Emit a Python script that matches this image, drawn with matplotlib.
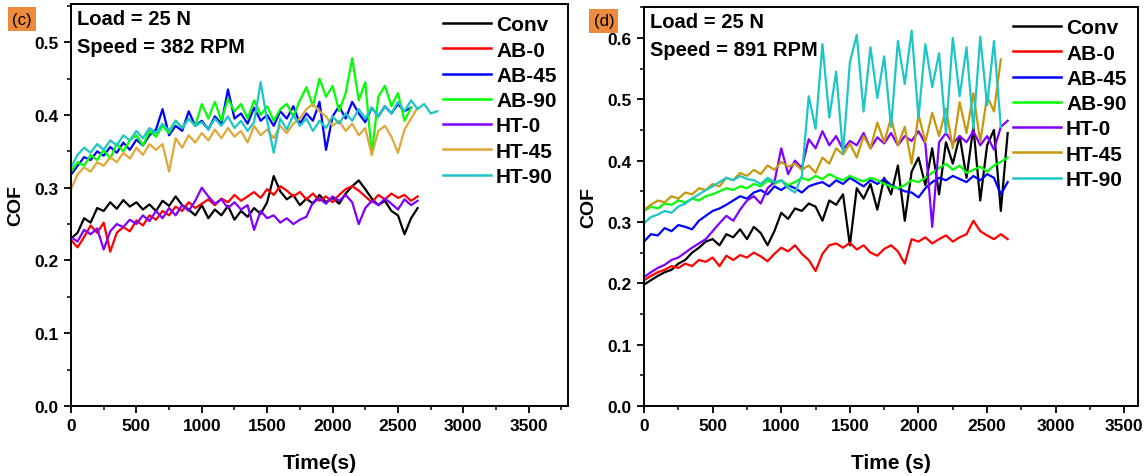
import numpy as np
import matplotlib
matplotlib.use("Agg")
import matplotlib.pyplot as plt
from matplotlib.ticker import MultipleLocator

plt.rcParams['font.family'] = ['Liberation Sans', 'DejaVu Sans']
plt.rcParams['font.weight'] = 'bold'

step = 50

# ---- panel (c): 25 N, 382 RPM ----
conv_c = [0.230, 0.238, 0.258, 0.252, 0.272, 0.268, 0.280, 0.271, 0.283, 0.274,
          0.280, 0.270, 0.277, 0.268, 0.282, 0.275, 0.288, 0.276, 0.270, 0.262,
          0.276, 0.258, 0.270, 0.262, 0.275, 0.256, 0.268, 0.260, 0.272, 0.264,
          0.280, 0.316, 0.295, 0.284, 0.290, 0.276, 0.285, 0.278, 0.290, 0.280,
          0.286, 0.278, 0.292, 0.302, 0.310, 0.298, 0.285, 0.276, 0.282, 0.268,
          0.262, 0.236, 0.258, 0.272]
ab0_c = [0.228, 0.218, 0.232, 0.248, 0.238, 0.252, 0.212, 0.238, 0.246, 0.240,
         0.255, 0.248, 0.262, 0.256, 0.268, 0.262, 0.274, 0.268, 0.280, 0.272,
         0.278, 0.284, 0.276, 0.285, 0.280, 0.290, 0.282, 0.288, 0.294, 0.286,
         0.298, 0.290, 0.302, 0.296, 0.288, 0.294, 0.284, 0.292, 0.282, 0.288,
         0.280, 0.290, 0.298, 0.302, 0.296, 0.288, 0.280, 0.290, 0.284, 0.292,
         0.286, 0.290, 0.282, 0.288]
ab45_c = [0.318, 0.330, 0.342, 0.338, 0.350, 0.344, 0.356, 0.348, 0.362, 0.352,
          0.366, 0.358, 0.372, 0.380, 0.408, 0.372, 0.385, 0.378, 0.405, 0.385,
          0.392, 0.380, 0.398, 0.388, 0.435, 0.395, 0.402, 0.388, 0.410, 0.392,
          0.400, 0.385, 0.405, 0.395, 0.412, 0.388, 0.402, 0.392, 0.418, 0.352,
          0.398, 0.412, 0.395, 0.418, 0.402, 0.390, 0.410, 0.398, 0.412, 0.402,
          0.415, 0.405, 0.410]
ab90_c = [0.322, 0.335, 0.330, 0.345, 0.338, 0.352, 0.340, 0.360, 0.350, 0.365,
          0.372, 0.358, 0.378, 0.370, 0.385, 0.375, 0.392, 0.382, 0.395, 0.385,
          0.415, 0.395, 0.418, 0.392, 0.422, 0.405, 0.415, 0.395, 0.420, 0.400,
          0.412, 0.392, 0.408, 0.415, 0.398, 0.420, 0.438, 0.412, 0.450, 0.425,
          0.440, 0.405, 0.430, 0.478, 0.420, 0.445, 0.345, 0.425, 0.440, 0.412,
          0.430, 0.392, 0.410]
ht0_c = [0.232, 0.226, 0.242, 0.236, 0.244, 0.215, 0.240, 0.250, 0.246, 0.256,
         0.250, 0.262, 0.254, 0.268, 0.258, 0.272, 0.262, 0.276, 0.268, 0.282,
         0.300, 0.288, 0.278, 0.284, 0.272, 0.280, 0.270, 0.276, 0.242, 0.268,
         0.258, 0.262, 0.252, 0.258, 0.250, 0.256, 0.260, 0.280, 0.285, 0.278,
         0.288, 0.282, 0.290, 0.280, 0.250, 0.272, 0.282, 0.276, 0.285, 0.278,
         0.270, 0.284, 0.276, 0.282]
ht45_c = [0.298, 0.318, 0.328, 0.322, 0.335, 0.330, 0.342, 0.335, 0.348, 0.340,
          0.355, 0.345, 0.360, 0.352, 0.360, 0.322, 0.368, 0.355, 0.372, 0.362,
          0.375, 0.365, 0.380, 0.368, 0.382, 0.370, 0.378, 0.362, 0.385, 0.372,
          0.380, 0.368, 0.385, 0.375, 0.388, 0.395, 0.408, 0.415, 0.405, 0.398,
          0.385, 0.392, 0.378, 0.388, 0.372, 0.382, 0.345, 0.378, 0.385, 0.370,
          0.348, 0.380, 0.395, 0.410]
ht90_c = [0.328, 0.345, 0.355, 0.348, 0.360, 0.352, 0.365, 0.358, 0.372, 0.365,
          0.378, 0.368, 0.382, 0.375, 0.388, 0.378, 0.392, 0.382, 0.395, 0.385,
          0.390, 0.380, 0.395, 0.385, 0.398, 0.382, 0.392, 0.378, 0.390, 0.445,
          0.392, 0.348, 0.395, 0.380, 0.400, 0.385, 0.395, 0.378, 0.392, 0.382,
          0.398, 0.388, 0.402, 0.392, 0.408, 0.395, 0.410, 0.398, 0.412, 0.402,
          0.418, 0.405, 0.420, 0.408, 0.415, 0.402, 0.405]

# ---- panel (d): 25 N, 891 RPM ----
conv_d = [0.198, 0.205, 0.212, 0.218, 0.222, 0.232, 0.238, 0.250, 0.258, 0.268,
          0.272, 0.262, 0.280, 0.275, 0.288, 0.272, 0.292, 0.282, 0.262, 0.285,
          0.315, 0.305, 0.322, 0.318, 0.330, 0.325, 0.302, 0.335, 0.328, 0.345,
          0.262, 0.355, 0.338, 0.362, 0.320, 0.372, 0.345, 0.392, 0.302, 0.382,
          0.405, 0.360, 0.420, 0.345, 0.430, 0.395, 0.440, 0.372, 0.455, 0.335,
          0.425, 0.450, 0.318, 0.445]
ab0_d = [0.205, 0.212, 0.218, 0.222, 0.228, 0.225, 0.232, 0.228, 0.238, 0.235,
         0.242, 0.228, 0.245, 0.238, 0.246, 0.242, 0.250, 0.244, 0.236, 0.248,
         0.258, 0.252, 0.262, 0.248, 0.238, 0.220, 0.248, 0.262, 0.265, 0.258,
         0.266, 0.255, 0.262, 0.250, 0.245, 0.256, 0.262, 0.252, 0.232, 0.272,
         0.268, 0.275, 0.265, 0.272, 0.278, 0.268, 0.275, 0.280, 0.302, 0.285,
         0.278, 0.272, 0.280, 0.272]
ab45_d = [0.268, 0.280, 0.278, 0.290, 0.285, 0.295, 0.292, 0.288, 0.302, 0.310,
          0.318, 0.322, 0.328, 0.335, 0.342, 0.338, 0.348, 0.352, 0.345, 0.358,
          0.352, 0.360, 0.355, 0.348, 0.358, 0.362, 0.365, 0.358, 0.368, 0.362,
          0.372, 0.365, 0.358, 0.368, 0.362, 0.370, 0.360, 0.355, 0.350, 0.348,
          0.340, 0.355, 0.365, 0.372, 0.368, 0.375, 0.370, 0.365, 0.375, 0.368,
          0.378, 0.372, 0.345, 0.365]
ab90_d = [0.318, 0.325, 0.322, 0.330, 0.328, 0.335, 0.332, 0.338, 0.335, 0.342,
          0.345, 0.350, 0.355, 0.352, 0.358, 0.355, 0.362, 0.358, 0.368, 0.362,
          0.368, 0.360, 0.365, 0.372, 0.368, 0.375, 0.370, 0.378, 0.372, 0.368,
          0.375, 0.370, 0.366, 0.372, 0.368, 0.362, 0.358, 0.355, 0.360, 0.368,
          0.365, 0.372, 0.380, 0.388, 0.395, 0.385, 0.392, 0.380, 0.385, 0.390,
          0.382, 0.392, 0.398, 0.405]
ht0_d = [0.210, 0.218, 0.225, 0.230, 0.238, 0.242, 0.250, 0.258, 0.265, 0.272,
         0.285, 0.298, 0.310, 0.302, 0.320, 0.335, 0.342, 0.330, 0.355, 0.365,
         0.420, 0.378, 0.400, 0.388, 0.435, 0.420, 0.448, 0.425, 0.440, 0.418,
         0.432, 0.425, 0.445, 0.420, 0.438, 0.428, 0.445, 0.425, 0.440, 0.432,
         0.448, 0.428, 0.292, 0.430, 0.445, 0.428, 0.440, 0.430, 0.448, 0.425,
         0.440, 0.418, 0.455, 0.465]
ht45_d = [0.320, 0.328, 0.335, 0.332, 0.342, 0.338, 0.348, 0.345, 0.355, 0.352,
          0.362, 0.358, 0.372, 0.368, 0.380, 0.375, 0.385, 0.378, 0.392, 0.385,
          0.398, 0.390, 0.395, 0.385, 0.392, 0.380, 0.405, 0.395, 0.420, 0.410,
          0.428, 0.405, 0.440, 0.420, 0.462, 0.430, 0.470, 0.425, 0.455, 0.395,
          0.475, 0.430, 0.478, 0.440, 0.485, 0.420, 0.495, 0.445, 0.510, 0.430,
          0.505, 0.480, 0.565]
ht90_d = [0.298, 0.308, 0.312, 0.318, 0.315, 0.325, 0.330, 0.338, 0.345, 0.352,
          0.358, 0.365, 0.372, 0.368, 0.375, 0.370, 0.368, 0.362, 0.372, 0.365,
          0.368, 0.355, 0.348, 0.375, 0.505, 0.452, 0.590, 0.470, 0.545, 0.412,
          0.560, 0.605, 0.480, 0.585, 0.502, 0.570, 0.455, 0.595, 0.525, 0.612,
          0.470, 0.590, 0.520, 0.575, 0.445, 0.600, 0.505, 0.585, 0.452, 0.602,
          0.490, 0.595, 0.455]

labels = ['Conv', 'AB-0', 'AB-45', 'AB-90', 'HT-0', 'HT-45', 'HT-90']
colors_c = ['#000000', '#FF0000', '#0000FF', '#00FF00', '#7F00FF', '#E0A838', '#1CC6C6']
colors_d = ['#000000', '#FF0000', '#0000FF', '#00FF00', '#7F00FF', '#C8980C', '#1CC6C6']

panel_c = [conv_c, ab0_c, ab45_c, ab90_c, ht0_c, ht45_c, ht90_c]
panel_d = [conv_d, ab0_d, ab45_d, ab90_d, ht0_d, ht45_d, ht90_d]

fig = plt.figure(figsize=(11.47, 4.77), dpi=100)
ax1 = fig.add_axes([0.0619, 0.1468, 0.4333, 0.8428])
ax2 = fig.add_axes([0.5615, 0.1468, 0.4307, 0.8365])


def draw(ax, series, colors, xmax, ylim_top, xlabel, speed):
    for vals, lab, col in zip(series, labels, colors):
        t = np.arange(len(vals)) * step
        ax.plot(t, vals, color=col, lw=1.6, label=lab)
    ax.set_xlim(0, xmax)
    ax.set_ylim(0, ylim_top)
    ax.xaxis.set_major_locator(MultipleLocator(500))
    ax.xaxis.set_minor_locator(MultipleLocator(250))
    ax.yaxis.set_major_locator(MultipleLocator(0.1))
    ax.yaxis.set_minor_locator(MultipleLocator(0.05))
    ax.tick_params(which='major', direction='out', length=5, width=1.3,
                   labelsize=12.5, pad=4)
    ax.tick_params(which='minor', direction='out', length=3, width=1.1)
    for lbl in ax.get_xticklabels() + ax.get_yticklabels():
        lbl.set_fontweight('bold')
    for sp in ax.spines.values():
        sp.set_linewidth(1.4)
    ax.set_xlabel(xlabel, fontsize=15, fontweight='bold', labelpad=14)
    ax.set_ylabel('COF', fontsize=14, fontweight='bold', labelpad=7)
    ax.text(0.012, 0.988, 'Load = 25 N', transform=ax.transAxes, fontsize=14.5,
            fontweight='bold', va='top', ha='left')
    ax.text(0.012, 0.917, 'Speed = %d RPM' % speed, transform=ax.transAxes,
            fontsize=14.5, fontweight='bold', va='top', ha='left')
    leg = ax.legend(loc='upper right', frameon=False, fontsize=15,
                    handlelength=2.3, handletextpad=0.25, labelspacing=0.3,
                    borderaxespad=0.15)
    for line in leg.get_lines():
        line.set_linewidth(1.8)
    for txt in leg.get_texts():
        txt.set_fontweight('bold')


draw(ax1, panel_c, colors_c, 3800, 0.5525, 'Time(s)', 382)
draw(ax2, panel_d, colors_d, 3600, 0.6505, 'Time (s)', 891)

box = dict(facecolor='#EE8A3C', edgecolor='none', pad=3)
fig.text(0.0105, 0.958, '(c)', fontsize=12, fontweight='normal', bbox=box,
         va='center', ha='left')
fig.text(0.5175, 0.954, '(d)', fontsize=12, fontweight='normal', bbox=box,
         va='center', ha='left')

fig.savefig('out.png', dpi=100)
